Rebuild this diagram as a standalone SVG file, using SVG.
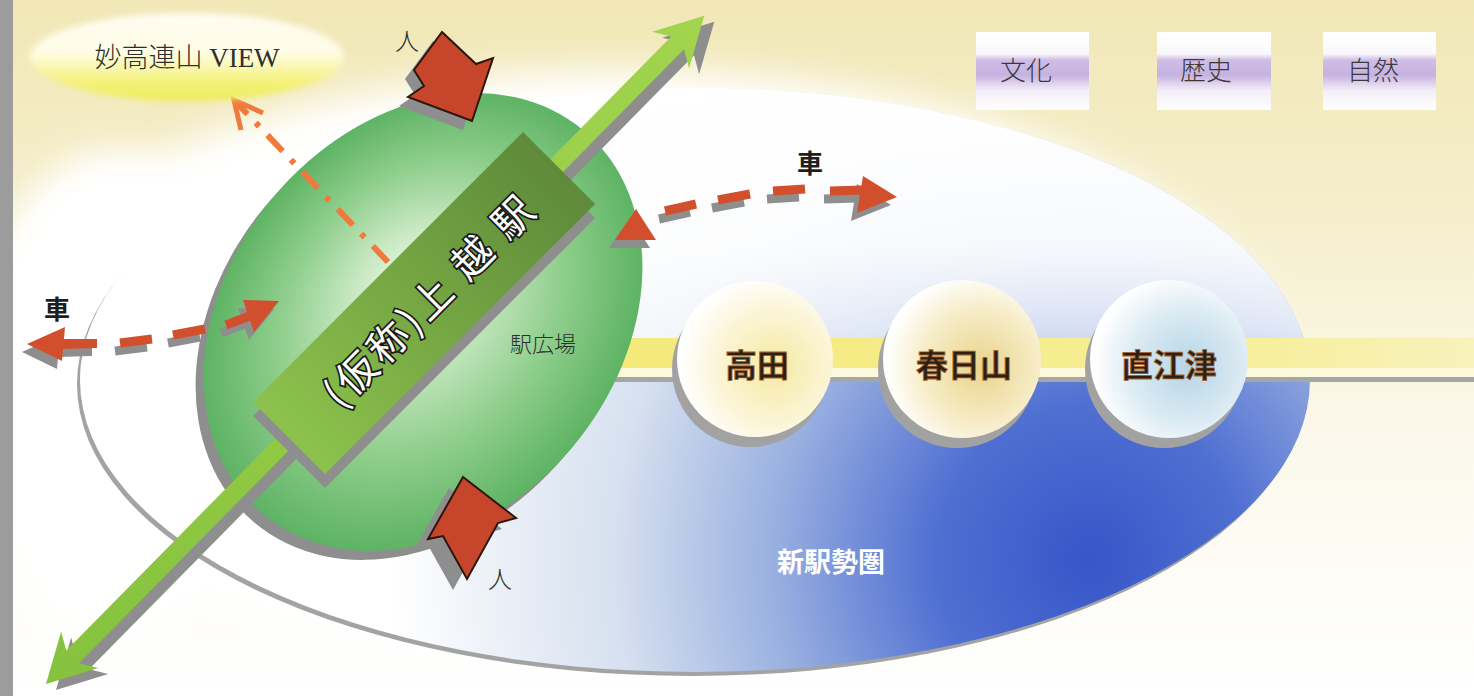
<svg xmlns="http://www.w3.org/2000/svg" width="1474" height="696" viewBox="0 0 1474 696">
<defs>
  <style>
    .shadow { fill: #8e8e8e; }
    .shadow-line { stroke: #8e8e8e; stroke-width: 9; fill: none; }
    .car { fill: #d24f2d; }
    .car-line { stroke: #d24f2d; stroke-width: 9; fill: none; }
    .person { fill: #c7462b; stroke: #2b160c; stroke-width: 2; stroke-linejoin: miter; }
    .mincho { font-family: "Liberation Serif", "Noto Sans CJK JP", serif; font-weight: 300; fill: #2e2e2e; }
    .goth { font-family: "Noto Sans CJK JP", "Liberation Sans", sans-serif; }
    .stn-label { font-family: "Noto Sans CJK JP", "Liberation Sans", sans-serif; font-weight: 700; font-size: 32px; fill: #2b2016; stroke: #a8642c; stroke-width: 0.8; text-anchor: middle; }
    .stn-shadow { fill: #a2a2a2; }
    .box-label { font-family: "Liberation Serif", "Noto Sans CJK JP", serif; font-weight: 300; font-size: 26px; fill: #3a3a3a; text-anchor: middle; }
  </style>
  <clipPath id="upper"><rect x="0" y="0" width="1474" height="378"/></clipPath>
  <filter id="blur18" x="-20%" y="-20%" width="140%" height="140%"><feGaussianBlur stdDeviation="18"/></filter>
  <filter id="blur3" x="-10%" y="-20%" width="120%" height="140%"><feGaussianBlur stdDeviation="3"/></filter>
  <linearGradient id="bg" gradientUnits="userSpaceOnUse" x1="0" y1="0" x2="0" y2="696">
    <stop offset="0" stop-color="#f1e7b6"/>
    <stop offset="0.3" stop-color="#f5eecb"/>
    <stop offset="0.6" stop-color="#fbf8ea"/>
    <stop offset="1" stop-color="#ffffff"/>
  </linearGradient>
  <radialGradient id="zone" gradientUnits="userSpaceOnUse" cx="1090" cy="560" r="700">
    <stop offset="0" stop-color="#3756c8"/>
    <stop offset="0.22" stop-color="#4f6fd2"/>
    <stop offset="0.45" stop-color="#98afe0"/>
    <stop offset="0.68" stop-color="#d6e0ef"/>
    <stop offset="1" stop-color="#ffffff"/>
  </radialGradient>
  <linearGradient id="zoneTop" gradientUnits="userSpaceOnUse" x1="0" y1="80" x2="0" y2="378">
    <stop offset="0" stop-color="#ffffff" stop-opacity="1"/>
    <stop offset="0.55" stop-color="#ffffff" stop-opacity="0.92"/>
    <stop offset="0.85" stop-color="#ffffff" stop-opacity="0.7"/>
    <stop offset="1" stop-color="#ffffff" stop-opacity="0.5"/>
  </linearGradient>
  <radialGradient id="greenG" cx="0.5" cy="0.5" r="0.5" fx="0.55" fy="0.42">
    <stop offset="0" stop-color="#f2faee"/>
    <stop offset="0.3" stop-color="#c8e8c2"/>
    <stop offset="0.65" stop-color="#8fce8c"/>
    <stop offset="1" stop-color="#5eb364"/>
  </radialGradient>
  <linearGradient id="rectG" x1="0" y1="0" x2="1" y2="0">
    <stop offset="0" stop-color="#8cc24c"/>
    <stop offset="1" stop-color="#5e8a3a"/>
  </linearGradient>
  <linearGradient id="arrowG" gradientUnits="userSpaceOnUse" x1="0" y1="0" x2="938" y2="0">
    <stop offset="0" stop-color="#86c23e"/>
    <stop offset="1" stop-color="#a2d44e"/>
  </linearGradient>
  <linearGradient id="viewG" x1="0" y1="0" x2="0" y2="1">
    <stop offset="0" stop-color="#fffdf2"/>
    <stop offset="0.45" stop-color="#fffce6"/>
    <stop offset="0.78" stop-color="#f4f27a"/>
    <stop offset="1" stop-color="#eeec58"/>
  </linearGradient>
  <linearGradient id="boxG" x1="0" y1="0" x2="0" y2="1">
    <stop offset="0" stop-color="#ffffff"/>
    <stop offset="0.28" stop-color="#faf8fc"/>
    <stop offset="0.36" stop-color="#cfbde6"/>
    <stop offset="0.55" stop-color="#c6b2e0"/>
    <stop offset="0.75" stop-color="#f3eef8"/>
    <stop offset="1" stop-color="#ffffff"/>
  </linearGradient>
  <radialGradient id="gTakada" cx="0.62" cy="0.55" r="0.6">
    <stop offset="0" stop-color="#f5e9a2"/>
    <stop offset="0.6" stop-color="#fbf5d6"/>
    <stop offset="1" stop-color="#ffffff"/>
  </radialGradient>
  <radialGradient id="gKasuga" cx="0.62" cy="0.55" r="0.6">
    <stop offset="0" stop-color="#ead38c"/>
    <stop offset="0.6" stop-color="#f6ecc6"/>
    <stop offset="1" stop-color="#ffffff"/>
  </radialGradient>
  <radialGradient id="gNaoetsu" cx="0.62" cy="0.55" r="0.6">
    <stop offset="0" stop-color="#b4d5e8"/>
    <stop offset="0.6" stop-color="#dcebf3"/>
    <stop offset="1" stop-color="#ffffff"/>
  </radialGradient>
  <linearGradient id="bandG" x1="0" y1="0" x2="1" y2="0">
    <stop offset="0" stop-color="#f4ea7a"/>
    <stop offset="0.7" stop-color="#f6ee96"/>
    <stop offset="1" stop-color="#f8f2bc"/>
  </linearGradient>
</defs>

<g id="background">
  <rect x="0" y="0" width="1474" height="696" fill="url(#bg)"/>
  <ellipse cx="620" cy="370" rx="660" ry="300" fill="#ffffff" filter="url(#blur18)"/>
  <ellipse cx="110" cy="400" rx="140" ry="250" fill="#ffffff" filter="url(#blur18)"/>
  <rect x="0" y="0" width="13" height="696" fill="#9c9c9c"/>
</g>

<g id="new-station-area">
  <ellipse cx="692" cy="384" rx="615" ry="292" fill="#a3a3a3"/>
  <ellipse cx="695" cy="380" rx="615" ry="292" fill="url(#zone)"/>
  <ellipse cx="695" cy="380" rx="615" ry="292" fill="url(#zoneTop)" clip-path="url(#upper)"/>
  <text class="goth" x="831" y="572" font-size="27" font-weight="700" fill="#ffffff" text-anchor="middle">新駅勢圏</text>
</g>

<g id="rail-line">
  <rect x="612" y="338" width="862" height="30" fill="url(#bandG)"/>
  <rect x="612" y="368" width="862" height="10" fill="#fbf8dc"/>
  <rect x="600" y="377" width="874" height="5" fill="#a6a6a6"/>
</g>

<g id="station-takada">
  <circle class="stn-shadow" cx="750" cy="369" r="78"/>
  <circle cx="755" cy="359" r="78" fill="url(#gTakada)"/>
  <text class="stn-label" x="757" y="377">高田</text>
</g>
<g id="station-kasugayama">
  <circle class="stn-shadow" cx="957" cy="369" r="79"/>
  <circle cx="962" cy="359" r="79" fill="url(#gKasuga)"/>
  <text class="stn-label" x="964" y="377">春日山</text>
</g>
<g id="station-naoetsu">
  <circle class="stn-shadow" cx="1164" cy="369" r="79"/>
  <circle cx="1169" cy="359" r="79" fill="url(#gNaoetsu)"/>
  <text class="stn-label" x="1169" y="377">直江津</text>
</g>

<g id="station-plaza">
  <ellipse cx="0" cy="0" rx="250" ry="195" class="shadow" transform="translate(415,331) rotate(-50)"/>
  <ellipse cx="0" cy="0" rx="250" ry="195" fill="url(#greenG)" transform="translate(423,322) rotate(-50)"/>
  <text class="mincho" x="543" y="352" font-size="22" text-anchor="middle" fill="#222">駅広場</text>
</g>

<g id="connectors">
  <g transform="translate(56,690) rotate(-45.43)">
    <polygon class="shadow" points="0,0 48,-26 38,-9 900,-9 890,-26 938,0 890,26 900,9 38,9 48,26"/>
  </g>
  <g transform="translate(46,684) rotate(-45.43)">
    <polygon fill="url(#arrowG)" points="0,0 48,-26 38,-9 900,-9 890,-26 938,0 890,26 900,9 38,9 48,26"/>
  </g>

  <g transform="translate(-5,8)">
    <polygon class="shadow" points="27,344 65,327 64,339 97,339 97,348 63,349 62,361"/>
    <line class="shadow-line" x1="120" y1="343" x2="152" y2="339"/>
    <line class="shadow-line" x1="173" y1="335" x2="205" y2="329"/>
    <line class="shadow-line" x1="226" y1="325" x2="252" y2="315"/>
    <polygon class="shadow" points="279,301 243,300 254,332"/>
  </g>
  <g>
    <polygon class="car" points="27,344 65,327 64,339 97,339 97,348 63,349 62,361"/>
    <line class="car-line" x1="120" y1="343" x2="152" y2="339"/>
    <line class="car-line" x1="173" y1="335" x2="205" y2="329"/>
    <line class="car-line" x1="226" y1="325" x2="252" y2="315"/>
    <polygon class="car" points="279,301 243,300 254,332"/>
  </g>

  <g transform="translate(-6,8)">
    <polygon class="shadow" points="615,240 636,209 656,240"/>
    <line class="shadow-line" x1="665" y1="211" x2="696" y2="204"/>
    <line class="shadow-line" x1="718" y1="200" x2="750" y2="194"/>
    <line class="shadow-line" x1="773" y1="191" x2="805" y2="189"/>
    <line class="shadow-line" x1="830" y1="191" x2="864" y2="190"/>
    <polygon class="shadow" points="897,197 863,176 857,213"/>
  </g>
  <g>
    <polygon class="car" points="615,240 636,209 656,240"/>
    <line class="car-line" x1="665" y1="211" x2="696" y2="204"/>
    <line class="car-line" x1="718" y1="200" x2="750" y2="194"/>
    <line class="car-line" x1="773" y1="191" x2="805" y2="189"/>
    <line class="car-line" x1="830" y1="191" x2="864" y2="190"/>
    <polygon class="car" points="897,197 863,176 857,213"/>
  </g>

  <path d="M388,262 L236,102" stroke="#f07a3e" stroke-width="6" stroke-dasharray="22 12 5 12" fill="none"/>
  <polyline points="241,130 234,100 263,113" stroke="#f07a3e" stroke-width="5" fill="none" stroke-linejoin="miter"/>

  <path class="shadow" transform="translate(-9,9)" d="M442,32 L476,64 L493,58 L472,121 L408,97 L424,86 L414,70 Z"/>
  <path class="person" d="M442,32 L476,64 L493,58 L472,121 L408,97 L424,86 L414,70 Z"/>
  <path class="shadow" transform="translate(-14,11)" d="M463,477 L516,518 L498,523 L467,579 L443,536 L428,539 Z"/>
  <path class="person" d="M463,477 L516,518 L498,523 L467,579 L443,536 L428,539 Z"/>
</g>

<g id="station-joetsu">
  <rect class="shadow" x="-191" y="-51" width="382" height="102" transform="translate(424,317) rotate(-45)"/>
  <rect x="-191" y="-51" width="382" height="102" fill="url(#rectG)" transform="translate(424,303) rotate(-45)"/>
  <text transform="translate(429,302) rotate(-45)" x="0" y="14" text-anchor="middle" font-family="Noto Sans CJK JP, Liberation Sans, sans-serif" font-size="40" fill="#ffffff" stroke="#1a1a1a" stroke-width="3.5" paint-order="stroke" textLength="278" lengthAdjust="spacing">(仮称)上 越 駅</text>
</g>

<g id="view-myoko">
  <ellipse cx="187" cy="57" rx="157" ry="44" fill="url(#viewG)" filter="url(#blur3)"/>
  <text class="mincho" x="187" y="67" font-size="27" font-weight="400" text-anchor="middle">妙高連山 VIEW</text>
</g>

<g id="theme-culture">
  <rect x="976" y="32" width="113" height="78" fill="url(#boxG)"/>
  <text class="box-label" x="1026" y="80">文化</text>
</g>
<g id="theme-history">
  <rect x="1157" y="32" width="114" height="78" fill="url(#boxG)"/>
  <text class="box-label" x="1206" y="80">歴史</text>
</g>
<g id="theme-nature">
  <rect x="1323" y="32" width="113" height="78" fill="url(#boxG)"/>
  <text class="box-label" x="1373" y="80">自然</text>
</g>

<g id="labels">
  <text class="goth" x="57" y="319" font-size="26" font-weight="700" fill="#1e1e1e" text-anchor="middle">車</text>
  <text class="goth" x="810" y="173" font-size="26" font-weight="700" fill="#1e1e1e" text-anchor="middle">車</text>
  <text class="mincho" x="407" y="50" font-size="24" text-anchor="middle">人</text>
  <text class="mincho" x="500" y="588" font-size="24" text-anchor="middle">人</text>
</g>
</svg>
